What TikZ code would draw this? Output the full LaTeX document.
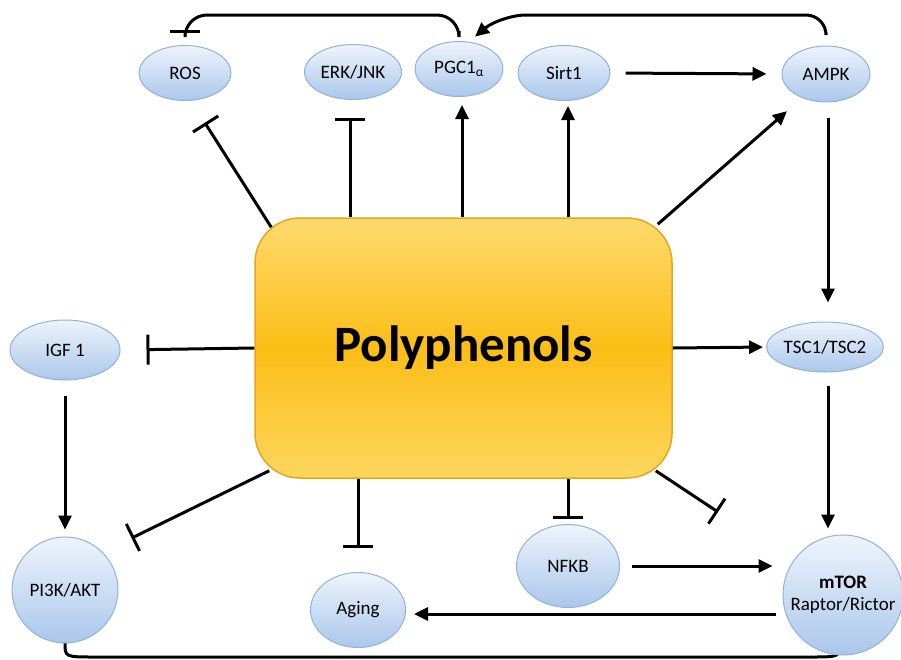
\documentclass[tikz,border=0pt]{standalone}
\usepackage{fontspec}
\setmainfont{Carlito}
\usepackage{tikz}
\usetikzlibrary{calc, arrows.meta, shapes.geometric}
\definecolor{cellTop}{RGB}{238,244,252}
\definecolor{cellBot}{RGB}{170,199,235}
\definecolor{cellLine}{RGB}{145,178,220}
\definecolor{boxTop}{RGB}{253,218,110}
\definecolor{boxMid}{RGB}{252,190,22}
\definecolor{boxBot}{RGB}{253,214,95}
\definecolor{boxLine}{RGB}{228,166,28}

\begin{document}
\begin{tikzpicture}[x=1pt, y=-1pt,
    cell/.style={ellipse, draw=cellLine, line width=1pt, top color=cellTop, bottom color=cellBot, inner sep=0pt, font=\fontsize{19}{22}\selectfont},
    ball/.style={cell, circle},
    box/.style={rectangle, rounded corners=45pt, draw=boxLine, line width=1.5pt, top color=boxTop, bottom color=boxBot, middle color=boxMid, font=\fontsize{51}{60}\selectfont\bfseries},
    act/.style={-{Triangle[length=14pt,width=13pt]}, line width=3pt},
    inh/.style={-{Bar[width=30pt]}, line width=3pt}]
            \useasboundingbox (0,0) rectangle (901,659);
            % bracket under the bottom row
            \coordinate (bl) at (65,643);
            \coordinate (br) at (840,642);
            \draw[line width=3pt] (bl) .. controls ($(bl)+(0,14)$) .. ($(bl)+(30,14)$) -- ($(br)+(-30,15)$) .. controls ($(br)+(0,15)$) .. (br);
            % nodes
            \node[box, minimum width=417pt, minimum height=260pt] (poly) at (463.5,348) {Polyphenols};
            \node[cell, minimum width=92pt, minimum height=55pt] (ros) at (185,73) {ROS};
            \node[cell, minimum width=97pt, minimum height=55pt] (erk) at (353,72) {ERK/JNK};
            \node[cell, minimum width=88pt, minimum height=55pt] (pgc) at (459,69) {PGC1\textsubscript{α}};
            \node[cell, minimum width=92pt, minimum height=55pt] (sirt) at (564,73) {Sirt1};
            \node[cell, minimum width=88pt, minimum height=56pt] (ampk) at (826,74) {AMPK};
            \node[cell, minimum width=110pt, minimum height=60pt] (igf) at (65,350) {IGF 1};
            \node[cell, minimum width=92pt, minimum height=50pt] (tsc) at (825,347) {TSC1/TSC2};
            \node[ball, minimum size=106pt] (pik) at (65,590) {PI3K/AKT};
            \node[cell, minimum width=95pt, minimum height=75pt] (aging) at (358,610) {Aging};
            \node[cell, minimum width=103pt, minimum height=83pt] (nfkb) at (568,566) {NFKB};
            \node[ball, minimum size=120pt, align=center] (mtor) at (843,595) {\textbf{mTOR}\\Raptor/Rictor};
            % points on the box
            \coordinate (p-ros) at ($(poly.north west)+(17,10)$);
            \coordinate (p-ampk) at ($(poly.north east)+(-15,7)$);
            \coordinate (p-pik) at ($(poly.south west)+(15,-8)$);
            \coordinate (p-free) at ($(poly.south east)+(-17,-8)$);
            \coordinate (free) at (718,512);
            % top row
            \draw[inh, shorten >=26pt] (p-ros) -- (ros.-78);
            \draw[inh, shorten >=20pt] (poly.north -| 350,0) -- (350,98);
            \draw[act, shorten >=8pt] (poly.north -| 462,0) -- (pgc.south -| 462,0);
            \draw[act, shorten >=5pt] (poly.north -| 568,0) -- (sirt.south -| 568,0);
            \draw[act, shorten >=20pt] (p-ampk) -- (ampk.225);
            \draw[act, shorten <=15pt, shorten >=15pt] (sirt.east) -- (ampk.west);
            \draw[inh, rounded corners=22pt, shorten <=10pt, shorten >=12pt] (pgc.north) -- (pgc.north |- 0,15) -| (ros.north);
            \draw[act, rounded corners=20pt, shorten <=13pt, shorten >=8pt] (ampk.north) -- (ampk.north |- 0,15) -- (545,15) to[out=180, in=40] (pgc.70);
            % right column
            \draw[act, shorten <=15pt, shorten >=19pt] (ampk.south -| 828,0) -- (tsc.north -| 828,0);
            \draw[act, shorten >=3pt] (poly.east) -- (tsc.west);
            \draw[act, shorten <=13pt, shorten >=6pt] (tsc.south -| 828,0) -- (mtor.north -| 828,0);
            % left column
            \draw[inh, shorten >=26pt] (poly.west) -- (igf.east);
            \draw[act, shorten <=15pt, shorten >=7pt] (igf.south) -- (pik.north);
            \draw[inh, shorten >=32pt] (p-pik) -- (pik.north east);
            % bottom row
            \draw[inh, shorten >=24pt] (poly.south -| aging.north) -- (aging.north);
            \draw[inh, shorten >=5pt] (poly.south -| nfkb.north) -- (nfkb.north);
            \draw[inh] (p-free) -- (free);
            \draw[act, shorten <=12pt, shorten >=10pt] (nfkb.east) -- (nfkb.east -| mtor.west);
            \draw[act, shorten <=7pt, shorten >=8pt] ([yshift=-19pt]mtor.west) -- ([yshift=-19pt]mtor.west -| aging.east);
\end{tikzpicture}
\end{document}
